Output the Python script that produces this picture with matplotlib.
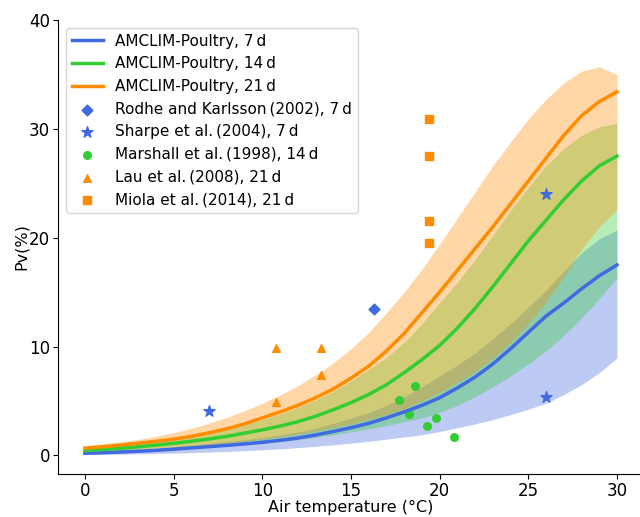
import matplotlib
matplotlib.use("Agg")
import matplotlib.pyplot as plt

# temperature grid (degC) the curves were read at
temps = list(range(0, 31))

# AMCLIM-Poultry, 7 d
blue_mean = [0.2, 0.26, 0.32, 0.39, 0.47, 0.58, 0.7, 0.81, 0.93, 1.06, 1.21, 1.39, 1.6, 1.88, 2.2, 2.55,
             2.95, 3.45, 4.0, 4.6, 5.3, 6.2, 7.2, 8.4, 9.8, 11.3, 12.8, 14.0, 15.3, 16.5, 17.5]
blue_lo = [0.08, 0.1, 0.12, 0.15, 0.18, 0.22, 0.26, 0.31, 0.37, 0.44, 0.52, 0.61, 0.72, 0.84, 0.98, 1.13,
           1.3, 1.5, 1.7, 1.9, 2.2, 2.55, 2.9, 3.3, 3.75, 4.25, 4.8, 5.6, 6.5, 7.6, 8.95]
blue_hi = [0.28, 0.35, 0.43, 0.52, 0.63, 0.77, 0.94, 1.1, 1.28, 1.45, 1.64, 1.88, 2.15, 2.5, 2.95, 3.42,
           3.95, 4.6, 5.4, 6.3, 7.3, 8.3, 9.4, 10.7, 12.1, 13.6, 15.2, 16.9, 18.6, 19.9, 20.7]

# AMCLIM-Poultry, 14 d
green_mean = [0.45, 0.55, 0.65, 0.8, 0.95, 1.12, 1.3, 1.52, 1.75, 2.05, 2.35, 2.7, 3.1, 3.6, 4.2, 4.85,
              5.6, 6.5, 7.6, 8.8, 10.1, 11.7, 13.5, 15.5, 17.6, 19.7, 21.6, 23.5, 25.2, 26.6, 27.5]
green_lo = [0.3, 0.35, 0.4, 0.46, 0.52, 0.6, 0.68, 0.78, 0.88, 1.0, 1.13, 1.28, 1.45, 1.66, 1.9, 2.17,
            2.45, 2.75, 3.1, 3.45, 3.95, 4.6, 5.4, 6.3, 7.3, 8.4, 9.6, 11.0, 12.6, 14.4, 16.3]
green_hi = [0.6, 0.72, 0.85, 1.02, 1.2, 1.43, 1.7, 2.03, 2.4, 2.83, 3.3, 3.82, 4.4, 5.1, 5.9, 6.85,
            7.9, 9.0, 10.4, 12.1, 14.0, 15.9, 18.0, 20.2, 22.5, 24.6, 26.6, 28.2, 29.4, 30.2, 30.5]

# AMCLIM-Poultry, 21 d
orange_mean = [0.68, 0.8, 0.95, 1.12, 1.3, 1.5, 1.75, 2.08, 2.45, 2.9, 3.45, 4.0, 4.6, 5.3, 6.1, 7.1,
               8.2, 9.6, 11.2, 13.1, 15.0, 17.0, 19.0, 21.0, 23.1, 25.2, 27.3, 29.4, 31.2, 32.5, 33.4]
orange_lo = [0.4, 0.46, 0.52, 0.6, 0.68, 0.78, 0.88, 1.0, 1.15, 1.32, 1.5, 1.72, 1.95, 2.23, 2.55, 2.9,
             3.3, 3.75, 4.3, 5.0, 5.8, 6.7, 7.7, 8.9, 10.4, 12.1, 14.1, 16.4, 18.9, 21.0, 22.6]
orange_hi = [0.9, 1.06, 1.25, 1.48, 1.75, 2.1, 2.5, 2.97, 3.5, 4.12, 4.8, 5.55, 6.4, 7.4, 8.5, 9.8,
             11.3, 13.1, 15.0, 17.1, 19.4, 21.8, 24.2, 26.6, 28.8, 30.9, 32.7, 34.2, 35.3, 35.7, 35.0]

# observations
rodhe_t, rodhe_v = [16.3], [13.5]
sharpe_t, sharpe_v = [7.0, 26.0, 26.0], [4.1, 24.0, 5.4]
marshall_t = [17.7, 18.6, 18.3, 19.3, 19.8, 20.8]
marshall_v = [5.1, 6.4, 3.8, 2.7, 3.4, 1.7]
lau_t, lau_v = [10.8, 10.8, 13.3, 13.3], [9.9, 4.9, 9.9, 7.4]
miola_t, miola_v = [19.4, 19.4, 19.4, 19.4], [30.9, 27.5, 21.5, 19.5]

C_B = "royalblue"
C_G = "limegreen"
C_O = "darkorange"
TS = "\u2009"

plt.rcParams["font.size"] = 11.5

fig = plt.figure(figsize=(6.4, 5.17), dpi=100)
ax = fig.add_axes([0.0911, 0.0832, 0.9144, 0.8781])

ax.fill_between(temps, blue_lo, blue_hi, color=C_B, alpha=0.35, lw=0)
ax.fill_between(temps, green_lo, green_hi, color=C_G, alpha=0.35, lw=0)
ax.fill_between(temps, orange_lo, orange_hi, color=C_O, alpha=0.35, lw=0)

ax.plot(temps, blue_mean, color=C_B, lw=2.5, label=f"AMCLIM-Poultry, 7{TS}d")
ax.plot(temps, green_mean, color=C_G, lw=2.5, label=f"AMCLIM-Poultry, 14{TS}d")
ax.plot(temps, orange_mean, color=C_O, lw=2.5, label=f"AMCLIM-Poultry, 21{TS}d")

ax.scatter(rodhe_t, rodhe_v, marker="D", s=30, color=C_B, label=f"Rodhe and Karlsson{TS}(2002), 7{TS}d")
ax.scatter(sharpe_t, sharpe_v, marker="*", s=70, color=C_B, label=f"Sharpe et al.{TS}(2004), 7{TS}d")
ax.scatter(marshall_t, marshall_v, marker="o", s=30, color=C_G, label=f"Marshall et al.{TS}(1998), 14{TS}d")
ax.scatter(lau_t, lau_v, marker="^", s=30, color=C_O, label=f"Lau et al.{TS}(2008), 21{TS}d")
ax.scatter(miola_t, miola_v, marker="s", s=30, color=C_O, label=f"Miola et al.{TS}(2014), 21{TS}d")

ax.set_xlim(-1.5, 31.5)
ax.set_ylim(-1.7, 40)
ax.set_xticks([0, 5, 10, 15, 20, 25, 30])
ax.set_yticks([0, 10, 20, 30, 40])
ax.tick_params(labelsize=12, pad=2.5)
ax.spines["top"].set_visible(False)
ax.spines["right"].set_visible(False)
ax.set_xlabel("Air temperature (°C)", labelpad=0)
ax.set_ylabel("Pv(%)", labelpad=0)
ax.legend(loc="upper left", fontsize=11)

fig.savefig("out.png", dpi=100)
